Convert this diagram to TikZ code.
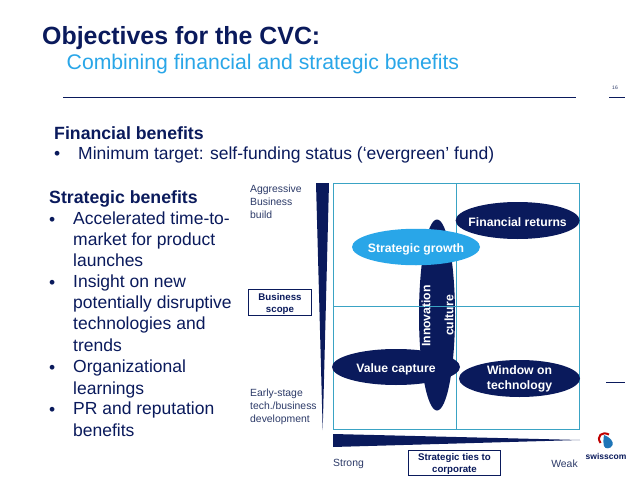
\documentclass[tikz,border=0pt]{standalone}
\usepackage{fontspec}
\setmainfont{Liberation Sans}
\usetikzlibrary{shapes.geometric}
\definecolor{cvcnavy}{HTML}{0A1A5C}
\definecolor{cvcsky}{HTML}{29A6E8}
\definecolor{cvcgrid}{HTML}{3AA3C4}
\definecolor{cvctext}{HTML}{2C3A68}
\tikzset{
  blob/.style={ellipse,fill=cvcnavy,text=white,inner sep=-18pt,font=\fontsize{12.2}{15}\selectfont\bfseries,align=center},
  oneline/.style={text height=11.5pt,text depth=0pt},
  axisbox/.style={draw=cvcnavy,line width=0.8pt,fill=white,text=cvcnavy,inner sep=0pt,font=\fontsize{9.7}{12}\selectfont\bfseries,align=center},
  axislabel/.style={text=cvctext,inner sep=0pt,font=\fontsize{10.4}{13}\selectfont,align=left},
  bullettext/.style={text=cvcnavy,inner sep=0pt,font=\fontsize{17.5}{21.3}\selectfont,align=left},
  headtext/.style={anchor=west,inner sep=0pt,text=cvcnavy,font=\fontsize{17.7}{20}\selectfont\bfseries},
  uptext/.style={rotate=90,text=white,inner sep=0pt,font=\fontsize{12.2}{14}\selectfont\bfseries},
  rulegap/.style={draw=cvcnavy,line width=0.8pt}
}
\begin{document}
\begin{tikzpicture}[x=1pt,y=-1pt]
\useasboundingbox[fill=white] (0,0) rectangle (638,479);
% title
\node[anchor=base west,inner sep=0pt,text=cvcnavy,font=\fontsize{24.9}{28}\selectfont\bfseries] (title) at (42,44.5) {Objectives for the CVC:};
\node[anchor=base west,inner sep=0pt,text=cvcsky,font=\fontsize{21.2}{24}\selectfont] (subtitle) at (66.5,69) {Combining financial and strategic benefits};
\coordinate (ruleL) at (63,97.5); \coordinate (ruleR) at (576,97.5); \draw[rulegap] (ruleL)--(ruleR);
\coordinate (pageL) at (609,97.5); \coordinate (pageR) at (625,97.5); \draw[rulegap] (pageL)--(pageR);
\coordinate (markL) at (606,382); \coordinate (markR) at (625,382); \draw[rulegap] (markL)--(markR);
\node[text=cvctext,inner sep=0pt,font=\fontsize{5}{6}\selectfont] (pagenum) at (615,88) {16};
% financial benefits
\node[headtext] (finhead) at (54,133) {Financial benefits};
\node[anchor=west,bullettext] (finbullet) at (54,155) {•};
\node[anchor=west,bullettext] (fintext) at (78,155) {Minimum target: self-funding status (‘evergreen’ fund)};
% strategic benefits
\node[headtext] (strathead) at (49,199) {Strategic benefits};
\foreach \name/\ypos in {a/221,b/284,c/369,d/411} \node[anchor=west,bullettext] (bullet\name) at (49,\ypos) {•};
\node[anchor=north west,bullettext] (acc) at (73,211.5) {Accelerated time-to-\\market for product\\launches};
\node[anchor=north west,bullettext] (ins) at (73,274.5) {Insight on new\\potentially disruptive\\technologies and\\trends};
\node[anchor=north west,bullettext] (org) at (73,360) {Organizational\\learnings};
\node[anchor=north west,bullettext] (pr) at (73,402) {PR and reputation\\benefits};
% axes
\node[anchor=north west,axislabel] (aggr) at (250,185) {Aggressive\\Business\\build};
\node[anchor=north west,axislabel] (early) at (250,389) {Early-stage\\tech./business\\development};
\node[axisbox,minimum width=63pt,minimum height=26pt] (scope) at (280,302.5) {\rule{0pt}{9.5pt}Business\\scope};
\node[axisbox,minimum width=92pt,minimum height=25pt] (ties) at (454.5,462.5) {\rule{0pt}{10.5pt}Strategic ties to\\corporate};
\node[axislabel] (strong) at (348.5,463.5) {Strong};
\node[axislabel] (weak) at (564.5,463.5) {Weak};
\fill[cvcnavy] (316,183)--(329,183)--(322.7,430)--cycle;
\fill[cvcnavy] (333,434)--(333,447)--(580,440)--cycle;
% matrix
\node[blob,minimum width=36pt,minimum height=191pt] (innov) at (437,315) {};
\draw[cvcgrid,line width=0.8pt] (333.5,183.5) rectangle (579.5,429.5);
\draw[cvcgrid,line width=0.8pt] (456.5,183.5)--(456.5,429.5) (333.5,306.3)--(579.5,306.3);
\node[uptext] (innovlabel) at (426,316) {Innovation};
\node[uptext] (culturelabel) at (449,315.5) {culture};
\node[blob,oneline,minimum width=124pt,minimum height=37pt] (finret) at (517.6,220.5) {Financial returns};
\node[blob,oneline,fill=cvcsky,minimum width=128pt,minimum height=36.5pt] (stratgrowth) at (416,247) {Strategic growth};
\node[blob,oneline,minimum width=128pt,minimum height=36pt] (valcap) at (396,367) {Value capture};
\node[blob,minimum width=121pt,minimum height=37pt] (window) at (519.5,378.5) {Window on\\technology};
% logo
\fill[cvcsky!65!cvcnavy] (604,435)..controls (610,437) and (614,442)..(612.5,445)..controls (611,449) and (605,449.5)..(604,446)..controls (603,442) and (603.5,439)..(604,435)--cycle;
\draw[red!75!black,line width=2pt] (600.5,443)..controls (596,436) and (602,431)..(609,434.5);
\node[inner sep=0pt,text=cvcnavy,font=\fontsize{8.5}{10}\selectfont\bfseries] (logotext) at (606,456) {swisscom};
\end{tikzpicture}
\end{document}
